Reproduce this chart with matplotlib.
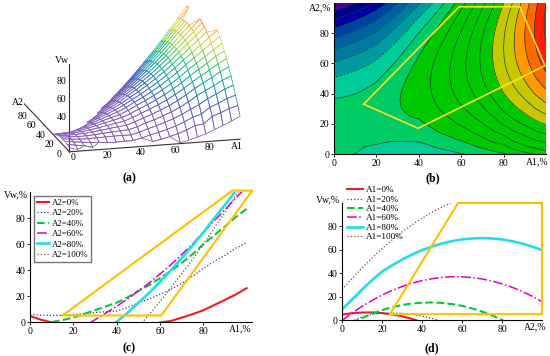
import numpy as np
import matplotlib
matplotlib.use('Agg')
import matplotlib.pyplot as plt
from matplotlib.colors import LinearSegmentedColormap

plt.rcParams['font.family'] = ['Liberation Serif', 'DejaVu Serif']
plt.rcParams['font.size'] = 7

# percent grids
a1_values = list(range(0, 101, 5))
a2_values = list(range(0, 101, 5))

# Vw, one row per A1 value, one column per A2 value
vw_rows = [
    [4.6, 5.8, 6.4, 6.5, 5.9, 4.8, 3.2, 0.9, -1.9, -5.3, -9.2, -13.8, -18.9, -24.6, -30.9, -37.7, -45.1, -53.1, -61.7, -70.8, -80.5],
    [1.8, 4.1, 5.1, 5.5, 5.3, 4.6, 3.3, 1.4, -1.1, -4.2, -7.8, -12.0, -16.8, -22.1, -28.0, -34.5, -41.6, -49.3, -57.5, -66.3, -75.6],
    [-0.3, 2.8, 4.1, 4.8, 5.0, 4.6, 3.6, 2.1, -0.1, -2.8, -6.0, -9.9, -14.3, -19.3, -24.9, -31.1, -37.8, -45.1, -53.0, -61.4, -70.5],
    [-2.5, 0.0, 3.0, 4.6, 5.2, 5.1, 4.5, 3.3, 1.5, -0.9, -3.8, -7.3, -11.4, -16.1, -21.3, -27.1, -33.5, -40.4, -48.0, -56.1, -64.8],
    [-4.5, -1.0, 2.5, 4.9, 5.7, 6.0, 5.7, 4.9, 3.4, 1.4, -1.2, -4.4, -8.1, -12.4, -17.3, -22.8, -28.8, -35.4, -42.6, -50.4, -58.7],
    [-5.0, -2.0, 1.5, 5.1, 6.5, 7.3, 7.5, 7.2, 6.2, 4.7, 2.7, 0.0, -3.2, -7.0, -11.4, -16.3, -21.8, -27.9, -34.6, -41.8, -49.7],
    [-5.5, -2.5, 1.2, 5.4, 7.3, 8.6, 9.3, 9.5, 9.1, 8.1, 6.6, 4.4, 1.7, -1.6, -5.4, -9.8, -14.8, -20.4, -26.6, -33.3, -40.6],
    [-5.5, -2.5, 1.5, 5.4, 7.9, 9.8, 11.1, 11.8, 12.0, 11.6, 10.6, 9.1, 6.9, 4.2, 1.0, -2.9, -7.3, -12.3, -17.9, -24.1, -30.8],
    [-7.3, -2.5, 1.7, 5.3, 8.4, 10.9, 12.8, 14.1, 14.8, 15.0, 14.6, 13.6, 12.1, 9.9, 7.2, 4.0, 0.1, -4.3, -9.3, -14.9, -21.1],
    [-5.9, -0.8, 3.8, 7.7, 11.1, 13.9, 16.2, 17.8, 18.9, 19.5, 19.4, 18.8, 17.6, 15.8, 13.4, 10.5, 7.0, 2.9, -1.8, -7.0, -12.8],
    [-3.8, 1.7, 6.6, 10.9, 14.7, 17.8, 20.4, 22.4, 23.9, 24.7, 25.0, 24.7, 23.9, 22.4, 20.4, 17.8, 14.7, 10.9, 6.6, 1.7, -3.8],
    [-2.4, 3.5, 8.7, 13.5, 17.6, 21.2, 24.2, 26.6, 28.4, 29.7, 30.4, 30.5, 30.0, 29.0, 27.4, 25.2, 22.4, 19.1, 15.2, 10.7, 5.6],
    [-0.4, 5.9, 11.6, 16.7, 21.3, 25.2, 28.6, 31.4, 33.7, 35.3, 36.4, 37.0, 36.9, 36.3, 35.1, 33.3, 30.9, 28.0, 24.5, 20.4, 15.7],
    [0.8, 8.6, 14.7, 20.2, 25.1, 29.5, 33.3, 36.5, 39.2, 41.2, 42.7, 43.7, 44.0, 43.8, 43.0, 41.6, 39.6, 37.1, 34.0, 30.3, 26.1],
    [3.3, 12.0, 18.5, 24.4, 29.7, 34.5, 38.7, 42.3, 45.4, 47.9, 49.8, 51.1, 51.8, 52.0, 51.6, 50.6, 49.1, 46.9, 44.2, 41.0, 37.1],
    [6.0, 16.3, 23.1, 29.4, 35.1, 40.2, 44.8, 48.7, 52.1, 54.9, 57.2, 58.8, 59.9, 60.5, 60.4, 59.8, 58.6, 56.8, 54.4, 51.5, 48.0],
    [9.0, 17.5, 26.0, 34.0, 41.3, 46.7, 51.6, 55.9, 59.7, 62.8, 65.4, 67.4, 68.9, 69.7, 70.0, 69.7, 68.9, 67.4, 65.4, 62.8, 59.7],
    [13.0, 25.2, 32.9, 40.0, 46.5, 52.4, 57.7, 62.5, 66.7, 70.3, 73.4, 75.9, 77.8, 79.1, 79.8, 80.0, 79.6, 78.6, 77.1, 74.9, 72.2],
    [17.0, 28.7, 36.8, 44.4, 51.3, 57.7, 63.5, 68.7, 73.4, 77.5, 81.0, 83.9, 86.3, 88.1, 89.3, 89.9, 90.0, 89.4, 88.3, 86.7, 84.4],
    [21.2, 32.8, 41.4, 49.4, 56.8, 63.6, 69.9, 75.6, 80.7, 85.3, 89.2, 92.6, 95.4, 97.7, 99.3, 100.4, 101.0, 100.9, 100.3, 99.1, 97.3],
    [26.0, 35.4, 44.5, 53.0, 61.0, 68.4, 75.2, 81.4, 87.0, 92.1, 96.6, 100.5, 103.9, 106.6, 108.8, 110.5, 111.5, 112.0, 111.9, 111.2, 109.9],
]

# wire colours of panel a, low to high
mesh_colors = ['#8a5fb5', '#8060bb', '#4a68c8', '#20a8b8', '#30c878', '#b8dc50', '#f4c850', '#f07070']

# contour bands of panel b
band_levels = list(range(-90, 121, 10))
band_colors = ['#4b0090', '#4b0090', '#00008b', '#0000a0', '#0040a0', '#0060a0', '#007aa0', '#009aa0',
               '#00cc99', '#00cc66', '#00c800', '#00c800', '#00c800', '#00c800', '#00c800',
               '#c8c800', '#c8c800', '#ff9900', '#ff6a00', '#ff2000', '#ff2000']

# feasible regions
region_b_a1 = [14, 59, 87.7, 99.5, 39.7, 14]
region_b_a2 = [33, 97.5, 97.5, 58.5, 17, 33]
region_c_a1 = [15, 60.6, 102.6, 93.4, 15]
region_c_vw = [5, 5, 101, 101, 5]
region_d_a2 = [24, 58, 100, 100, 24]
region_d_vw = [5, 100, 100, 5, 5]

curve_steps = [0, 20, 40, 60, 80, 100]
curve_colors = ['#ee1c25', '#3a3a9a', '#00cc33', '#e000c0', '#22dde8', '#8a4a3a']
curve_styles = ['-', ':', '--', '-.', '-', ':']
curve_widths = [1.5, 0.9, 1.5, 1.1, 1.9, 0.9]

axis_ticks = [0, 20, 40, 60, 80]

W, H = 550, 356


def px_axes(fig, left, top, right, bottom, **kw):
    return fig.add_axes([left / W, 1 - bottom / H, (right - left) / W, (bottom - top) / H], **kw)


def style_2d(ax, xname, xpos, yname, ypos):
    ax.spines['top'].set_visible(False)
    ax.spines['right'].set_visible(False)
    ax.tick_params(length=2, width=0.6, pad=1.5, labelsize=7)
    ax.set_xticks(axis_ticks)
    ax.set_yticks(axis_ticks)
    ax.text(xpos, -2, xname, ha='center', va='top', clip_on=False, fontsize=7)
    ax.text(-1, ypos, yname, ha='right', va='center', clip_on=False, fontsize=7)


def draw_curves(ax, x, rows, name):
    for i, step in enumerate(curve_steps):
        ax.plot(x, rows[i], color=curve_colors[i], ls=curve_styles[i], lw=curve_widths[i],
                label='%s=%d%%' % (name, step))


def main():
    vw = np.array(vw_rows)
    a1 = np.array(a1_values)
    a2 = np.array(a2_values)
    fig = plt.figure(figsize=(5.5, 3.56), dpi=100)

    # (a) wire mesh, only the part between 0 and 100 is shown
    ax = fig.add_axes([-0.116, 0.41, 0.70, 0.725], projection='3d', proj_type='ortho')
    ax.view_init(elev=16.3, azim=-104.8)
    ax.set_box_aspect((1, 1, 0.52))
    ax.set_axis_off()
    A2, A1 = np.meshgrid(a2, a1)
    z = np.where((vw < 0) | (vw > 100), np.nan, vw)
    mesh_cmap = LinearSegmentedColormap.from_list('mesh', mesh_colors)
    face = mesh_cmap(np.clip(vw, 0, 100) / 100)
    surf = ax.plot_surface(A1, A2, z, facecolors=face, rstride=1, cstride=1, shade=False, linewidth=0.55)
    surf.set_facecolor((0, 0, 0, 0))
    ax.plot([0, 100], [0, 0], [0, 0], color='#333333', lw=0.8)
    ax.plot([0, 0], [0, 100], [0, 0], color='#333333', lw=0.8)
    ax.plot([0, 0], [0, 0], [0, 100], color='#333333', lw=0.8)
    for t in axis_ticks:
        ax.text(t + 2, 0, -7, str(t), ha='center', va='center', fontsize=7)
        ax.text(-6.3, t, -2, str(t), ha='center', va='center', fontsize=7)
    for t in axis_ticks[2:]:
        ax.text(-4.5, 0, t, str(t), ha='center', va='center', fontsize=7)
    ax.text(-4.5, 0, 104, 'Vw', ha='center', va='center', fontsize=7)
    ax.text(98, 0, -8, 'A1', ha='center', va='center', fontsize=7)
    ax.text(-2, 108, -3, 'A2', ha='center', va='center', fontsize=7)
    ax.set_xlim(0, 100)
    ax.set_ylim(0, 100)
    ax.set_zlim(0, 100)
    ax.set_xticks([])
    ax.set_yticks([])
    ax.set_zticks([])

    # (b) contour map
    ax = px_axes(fig, 334, 3, 546, 154)
    ax.contourf(a1, a2, vw.T, levels=band_levels, colors=band_colors)
    ax.contour(a1, a2, vw.T, levels=band_levels[2:-1], colors='#0a4a30', linewidths=0.5)
    ax.plot(region_b_a1, region_b_a2, color='#ffe020', lw=1.2)
    ax.set_xlim(0, 100)
    ax.set_ylim(0, 100)
    style_2d(ax, 'A1,%', 95.8, 'A2,%', 97)

    # (c) curves against A1
    ax = px_axes(fig, 30, 192, 252, 322)
    draw_curves(ax, a1, [vw[:, i] for i in [0, 4, 8, 12, 16, 20]], 'A2')
    ax.plot(region_c_a1, region_c_vw, color='#ffc000', lw=1.5, clip_on=False)
    ax.set_xlim(0, 102.5)
    ax.set_ylim(0, 100)
    style_2d(ax, 'A1,%', 97, 'Vw,%', 97.7)
    ax.legend(loc='upper left', bbox_to_anchor=(0.018, 0.97), fontsize=6.4, frameon=True, fancybox=False,
              edgecolor='#777777', framealpha=1, borderpad=0.3, labelspacing=0.25, handlelength=1.4,
              handletextpad=0.3, borderaxespad=0)

    # (d) curves against A2
    ax = px_axes(fig, 342, 203, 542, 320)
    draw_curves(ax, a2, [vw[i, :] for i in [0, 4, 8, 12, 16, 20]], 'A1')
    ax.plot(region_d_a2, region_d_vw, color='#ffc000', lw=1.5, clip_on=False)
    ax.set_xlim(0, 100)
    ax.set_ylim(0, 100)
    style_2d(ax, 'A2,%', 96.5, 'Vw,%', 103)
    ax.legend(loc='upper left', bbox_to_anchor=(0.025, 1.145), fontsize=6.6, frameon=False, borderpad=0,
              labelspacing=0.1, handlelength=1.7, handletextpad=0.4, borderaxespad=0)

    for label, x, y in [('(a)', 129, 178), ('(b)', 433, 178), ('(c)', 129, 348), ('(d)', 432, 348)]:
        fig.text(x / W, 1 - y / H, label, ha='center', va='center', fontsize=8.5, fontweight='bold')

    fig.savefig('out.png', dpi=100)


if __name__ == '__main__':
    main()
